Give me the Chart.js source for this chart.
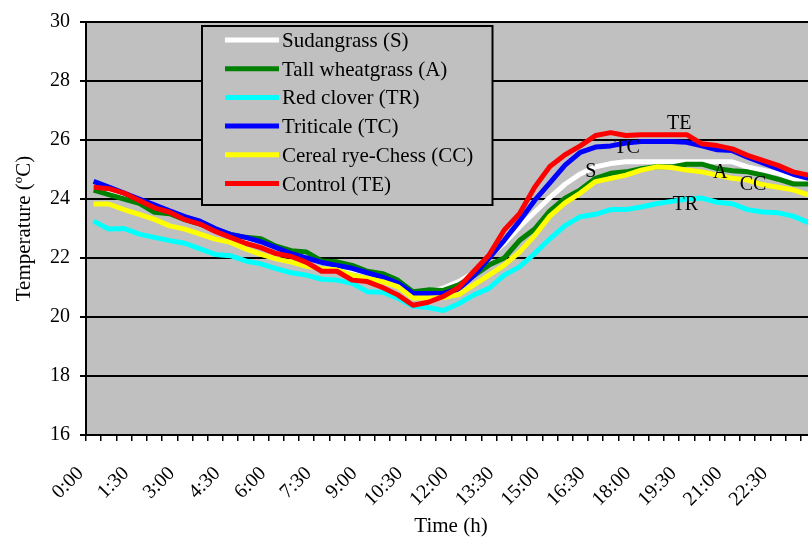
<!DOCTYPE html>
<html><head><meta charset="utf-8">
<script src="https://cdn.jsdelivr.net/npm/chart.js@4"></script>
<style>
html,body{margin:0;padding:0;background:#fff;overflow:hidden;width:808px;height:543px}
#wrap{position:absolute;left:0;top:0;width:816px;height:543px}
</style>
</head><body>
<div id="wrap"><canvas id="c" width="816" height="543"></canvas></div>
<script>
const timeLabels = ['0:00','0:30','1:00','1:30','2:00','2:30','3:00','3:30','4:00','4:30','5:00','5:30',
  '6:00','6:30','7:00','7:30','8:00','8:30','9:00','9:30','10:00','10:30','11:00','11:30',
  '12:00','12:30','13:00','13:30','14:00','14:30','15:00','15:30','16:00','16:30','17:00','17:30',
  '18:00','18:30','19:00','19:30','20:00','20:30','21:00','21:30','22:00','22:30','23:00','23:30'];

const sudangrass = [24.35,24.25,24.1,23.9,23.7,23.55,23.35,23.2,23.0,22.8,22.65,22.55,22.35,22.2,22.05,21.85,
  21.75,21.6,21.5,21.4,21.2,20.85,20.85,20.98,21.2,21.5,22.05,22.5,23.05,23.55,24.05,24.5,24.85,
  25.09,25.2,25.26,25.26,25.26,25.26,25.26,25.26,25.26,25.26,25.09,24.98,24.87,24.7,24.59];
const tallWheatgrass = [24.3,24.15,24.0,23.85,23.55,23.5,23.3,23.15,22.98,22.8,22.7,22.65,22.4,22.25,22.2,21.9,
  21.87,21.75,21.55,21.47,21.25,20.86,20.92,20.9,21.09,21.4,21.76,22.0,22.59,22.98,23.6,24.03,24.31,
  24.7,24.87,24.92,25.03,25.09,25.09,25.18,25.18,25.03,24.96,24.92,24.81,24.67,24.51,24.51];
const redClover = [23.25,22.98,23.0,22.81,22.7,22.59,22.5,22.31,22.12,22.08,21.9,21.8,21.64,21.5,21.42,21.28,
  21.25,21.14,20.86,20.84,20.64,20.36,20.32,20.22,20.45,20.75,20.97,21.42,21.7,22.15,22.65,23.1,23.4,
  23.48,23.64,23.64,23.73,23.84,23.92,24.0,24.03,23.89,23.84,23.64,23.56,23.53,23.42,23.2];
const triticale = [24.6,24.4,24.2,24.0,23.8,23.6,23.4,23.25,23.0,22.8,22.7,22.55,22.35,22.15,22.0,21.85,
  21.75,21.65,21.5,21.35,21.15,20.8,20.8,20.8,20.95,21.4,22.0,22.6,23.25,23.95,24.55,25.15,25.58,
  25.76,25.8,25.9,25.95,25.95,25.95,25.92,25.8,25.67,25.64,25.42,25.22,25.03,24.84,24.7];
const cerealRye = [23.83,23.83,23.64,23.48,23.31,23.09,22.98,22.81,22.64,22.53,22.31,22.12,21.97,21.86,21.72,21.64,
  21.59,21.42,21.31,21.2,21.03,20.64,20.64,20.66,20.76,21.09,21.42,21.76,22.2,22.76,23.42,23.87,24.2,
  24.59,24.7,24.81,24.98,25.09,25.07,24.98,24.92,24.81,24.7,24.64,24.48,24.4,24.31,24.14];
const control = [24.4,24.35,24.2,23.95,23.7,23.55,23.3,23.15,22.9,22.7,22.5,22.35,22.15,22.05,21.85,21.55,
  21.55,21.25,21.2,21.0,20.75,20.4,20.5,20.7,21.0,21.55,22.1,22.95,23.5,24.4,25.1,25.5,25.8,
  26.15,26.25,26.15,26.18,26.18,26.18,26.18,25.87,25.81,25.7,25.48,25.31,25.14,24.92,24.81];

const seriesNames = ['Sudangrass (S)','Tall wheatgrass (A)','Red clover (TR)','Triticale (TC)','Cereal rye-Chess (CC)','Control (TE)'];
const noteTexts = ['TE','TC','S','A','CC','TR'];
const noteAt = [[38.5,26.55],[35.07,25.75],[32.7,24.94],[41.2,24.88],[43.36,24.5],[38.9,23.8]];

const FONT = '"Liberation Serif", "Times New Roman", serif';
const colors = ['#ffffff','#008000','#00ffff','#0000ff','#ffff00','#ff0000'];
const values = [sudangrass, tallWheatgrass, redClover, triticale, cerealRye, control];

const datasets = seriesNames.map((name, k) => ({
  label: name,
  data: values[k],
  borderColor: colors[k],
  backgroundColor: colors[k],
  borderWidth: 5,
  pointRadius: 0,
  tension: 0,
  fill: false,
  borderJoinStyle: 'round',
  order: seriesNames.length - k
}));

const bgPlugin = {
  id: 'bg',
  beforeDraw(chart) {
    const {ctx, chartArea: a} = chart;
    ctx.save();
    ctx.fillStyle = '#c0c0c0';
    ctx.fillRect(a.left, a.top, a.right - a.left, a.bottom - a.top);
    ctx.restore();
  }
};

const overlayPlugin = {
  id: 'overlay',
  afterDraw(chart) {
    const {ctx, scales: {x, y}, chartArea: a} = chart;
    ctx.save();
    ctx.font = '20px ' + FONT;
    ctx.fillStyle = '#000';
    ctx.textAlign = 'center';
    ctx.textBaseline = 'middle';
    noteTexts.forEach((t, k) => {
      ctx.fillText(t, x.getPixelForValue(noteAt[k][0]), y.getPixelForValue(noteAt[k][1]));
    });
    // legend box
    const L = a.left + 116, T = a.top + 4, W = 290.5, H = 179;
    ctx.fillStyle = '#c0c0c0';
    ctx.fillRect(L, T, W, H);
    ctx.strokeStyle = '#000';
    ctx.lineWidth = 2;
    ctx.strokeRect(L, T, W, H);
    ctx.textAlign = 'left';
    ctx.font = '21px ' + FONT;
    chart.data.datasets.forEach((ds, k) => {
      const ry = T + 14 + k * 28.7;
      ctx.strokeStyle = ds.borderColor;
      ctx.lineWidth = 5;
      ctx.beginPath();
      ctx.moveTo(L + 23, ry);
      ctx.lineTo(L + 77, ry);
      ctx.stroke();
      ctx.fillStyle = '#000';
      ctx.fillText(ds.label, L + 80, ry + 1.5);
    });
    ctx.restore();
  }
};

new Chart(document.getElementById('c'), {
  type: 'line',
  data: { labels: timeLabels, datasets },
  options: {
    responsive: false,
    animation: false,
    devicePixelRatio: 1,
    layout: { padding: { top: 16, left: 0, right: 0, bottom: 0 } },
    plugins: { legend: { display: false }, tooltip: { enabled: false } },
    scales: {
      x: {
        type: 'category',
        offset: true,
        grid: { display: true, drawOnChartArea: false, drawTicks: true, tickLength: 6, color: '#000', lineWidth: 1.5, offset: true },
        border: { display: true, color: '#000', width: 2 },
        ticks: {
          autoSkip: false, minRotation: 45, maxRotation: 45, padding: 21, labelOffset: -13,
          color: '#000', font: { family: FONT, size: 20 },
          callback: (v, i) => (i % 3 === 0 ? timeLabels[i] : '')
        },
        title: { display: true, text: 'Time (h)', color: '#000', font: { family: FONT, size: 21 }, padding: { top: 0, bottom: 4 } },
        afterFit(s) { s.height = 108; s.paddingLeft = 0; s.paddingRight = 0; }
      },
      y: {
        min: 16, max: 30,
        grid: { color: '#000', lineWidth: 2, tickLength: 6, drawTicks: true },
        border: { display: true, color: '#000', width: 2 },
        ticks: { stepSize: 2, padding: 10, color: '#000', font: { family: FONT, size: 20 } },
        title: { display: true, text: 'Temperature (ºC)', color: '#000', font: { family: FONT, size: 21 }, padding: { top: 12, bottom: 0 } },
        afterFit(s) { s.width = 86; }
      }
    }
  },
  plugins: [bgPlugin, overlayPlugin]
});
</script>
</body></html>
